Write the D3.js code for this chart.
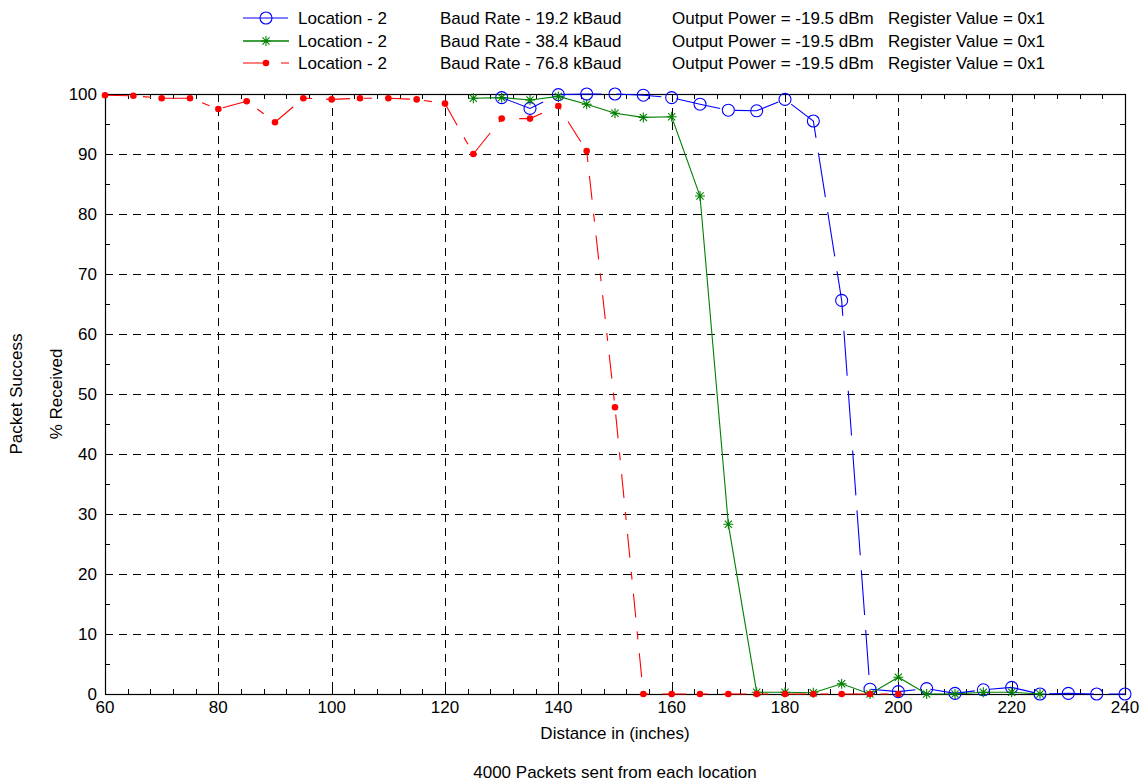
<!DOCTYPE html>
<html>
<head>
<meta charset="utf-8">
<script src="https://cdn.jsdelivr.net/npm/d3@7"></script>
<style>
  html, body { margin: 0; padding: 0; background: #fff; }
  svg { display: block; font-family: "Liberation Sans", Arial, Helvetica, sans-serif; }
</style>
</head>
<body>
<svg id="chart" width="1144" height="783"></svg>
<script>
// Packet success vs. distance, three baud rates at location 2
const distBlue = [130,135,140,145,150,155,160,165,170,175,180,185,190,195,200,205,210,215,220,225,230,235,240];
const pctBlue  = [99.4,97.6,99.9,100,100,99.8,99.4,98.3,97.3,97.2,99.1,95.5,65.6,0.8,0.4,0.9,0.1,0.7,1.1,0,0.1,0,0];

const distGreen = [125,130,135,140,145,150,155,160,165,170,175,180,185,190,195,200,205,210,215,220,225];
const pctGreen  = [99.3,99.4,99.0,99.6,98.3,96.8,96.1,96.2,83.0,28.3,0.3,0.3,0.2,1.7,0,2.8,0,0,0.3,0.3,0];

const distRed = [60,65,70,75,80,85,90,95,100,105,110,115,120,125,130,135,140,145,150,155,160,165,170,175,180,185,190,195,200];
const pctRed  = [99.8,99.7,99.3,99.3,97.5,98.8,95.3,99.3,99.1,99.3,99.3,99.1,98.4,90.0,95.9,95.9,98.0,90.5,47.8,0,0,0,0,0,0,0,0,0,0];

const xTicks = [60,80,100,120,140,160,180,200,220,240];
const yTicks = [0,10,20,30,40,50,60,70,80,90,100];

const legendLocation = ["Location - 2", "Location - 2", "Location - 2"];
const legendBaud = ["Baud Rate - 19.2 kBaud", "Baud Rate - 38.4 kBaud", "Baud Rate - 76.8 kBaud"];
const legendPower = ["Output Power = -19.5 dBm", "Output Power = -19.5 dBm", "Output Power = -19.5 dBm"];
const legendRegister = ["Register Value = 0x1", "Register Value = 0x1", "Register Value = 0x1"];

(function draw() {
  const svg = d3.select("#chart");
  const pl = 105, pr = 1125, pt = 94, pb = 694;
  const x = d3.scaleLinear().domain([60, 240]).range([pl, pr]);
  const y = d3.scaleLinear().domain([0, 100]).range([pb, pt]);
  const FS = 17;

  // dashed grid at major ticks
  const grid = svg.append("g").attr("stroke", "#000").attr("stroke-width", 1).attr("stroke-dasharray", "8,6");
  grid.selectAll(".gx").data(xTicks.slice(1, -1)).join("line")
    .attr("x1", d => Math.round(x(d)) + 0.5).attr("x2", d => Math.round(x(d)) + 0.5)
    .attr("y1", pt).attr("y2", pb);
  grid.selectAll(".gy").data(yTicks.slice(1, -1)).join("line")
    .attr("y1", d => Math.round(y(d)) + 0.5).attr("y2", d => Math.round(y(d)) + 0.5)
    .attr("x1", pl).attr("x2", pr);

  // inward ticks on all four sides
  const minorX = d3.range(60, 241, 4);
  const minorY = d3.range(0, 101, 5);
  const tickG = svg.append("g").attr("stroke", "#000").attr("stroke-width", 1);
  const tickLen = (v, step) => v % step === 0 ? 8 : 5;
  minorX.forEach(v => {
    const px = Math.round(x(v)) + 0.5, L = tickLen(v, 20);
    tickG.append("line").attr("x1", px).attr("x2", px).attr("y1", pb).attr("y2", pb - L);
    tickG.append("line").attr("x1", px).attr("x2", px).attr("y1", pt).attr("y2", pt + L);
  });
  minorY.forEach(v => {
    const py = Math.round(y(v)) + 0.5, L = tickLen(v, 10);
    tickG.append("line").attr("y1", py).attr("y2", py).attr("x1", pl).attr("x2", pl + L);
    tickG.append("line").attr("y1", py).attr("y2", py).attr("x1", pr).attr("x2", pr - L);
  });

  // axes box
  svg.append("rect").attr("x", pl + 0.5).attr("y", pt + 0.5)
    .attr("width", pr - pl).attr("height", pb - pt)
    .attr("fill", "none").attr("stroke", "#000").attr("stroke-width", 1.2);

  // tick labels
  svg.append("g").selectAll("text").data(xTicks).join("text")
    .attr("x", d => x(d)).attr("y", pb + 19)
    .attr("text-anchor", "middle").attr("font-size", FS).text(d => d);
  svg.append("g").selectAll("text").data(yTicks).join("text")
    .attr("x", pl - 8).attr("y", d => y(d) + 6)
    .attr("text-anchor", "end").attr("font-size", FS).text(d => d);

  // axis titles
  svg.append("text").attr("x", (pl + pr) / 2).attr("y", 739)
    .attr("text-anchor", "middle").attr("font-size", FS).text("Distance in (inches)");
  svg.append("text").attr("x", (pl + pr) / 2).attr("y", 778)
    .attr("text-anchor", "middle").attr("font-size", FS).text("4000 Packets sent from each location");
  svg.append("text").attr("transform", `translate(22,${(pt + pb) / 2}) rotate(-90)`)
    .attr("text-anchor", "middle").attr("font-size", FS).text("Packet Success");
  svg.append("text").attr("transform", `translate(62,${(pt + pb) / 2}) rotate(-90)`)
    .attr("text-anchor", "middle").attr("font-size", FS).text("% Received");

  const line = d3.line().x(d => x(d[0])).y(d => y(d[1]));
  const zip = (a, b) => a.map((v, i) => [v, b[i]]);

  const series = [
    { pts: zip(distBlue, pctBlue), color: "#0000ff", dash: "45,15", marker: "circle" },
    { pts: zip(distGreen, pctGreen), color: "#008000", dash: null, marker: "star" },
    { pts: zip(distRed, pctRed), color: "#ff0000", dash: "24,14,8,14", marker: "dot" }
  ];

  function drawMarker(g, kind, cx, cy, color) {
    if (kind === "circle") {
      g.append("circle").attr("cx", cx).attr("cy", cy).attr("r", 6)
        .attr("fill", "none").attr("stroke", color).attr("stroke-width", 1.1);
    } else if (kind === "star") {
      const r = 5, d = 3.6;
      const p = `M${cx - r},${cy}L${cx + r},${cy}M${cx},${cy - r}L${cx},${cy + r}` +
                `M${cx - d},${cy - d}L${cx + d},${cy + d}M${cx - d},${cy + d}L${cx + d},${cy - d}`;
      g.append("path").attr("d", p).attr("stroke", color).attr("stroke-width", 1.1).attr("fill", "none");
    } else {
      g.append("circle").attr("cx", cx).attr("cy", cy).attr("r", 3.3).attr("fill", color);
    }
  }

  series.forEach(s => {
    const g = svg.append("g");
    g.append("path").attr("d", line(s.pts)).attr("fill", "none")
      .attr("stroke", s.color).attr("stroke-width", 1.1)
      .attr("stroke-dasharray", s.dash);
    s.pts.forEach(p => drawMarker(g, s.marker, x(p[0]), y(p[1]), s.color));
  });

  // legend
  const legY = [18, 41, 63];
  series.forEach((s, i) => {
    const g = svg.append("g");
    const ly = legY[i];
    g.append("line").attr("x1", 243).attr("x2", 289).attr("y1", ly).attr("y2", ly)
      .attr("stroke", s.color).attr("stroke-width", s.marker === "star" ? 1.6 : 1.1)
      .attr("stroke-dasharray", s.dash);
    drawMarker(g, s.marker, 266, ly, s.color);
    const cols = [[298, legendLocation[i]], [440, legendBaud[i]], [672, legendPower[i]], [888, legendRegister[i]]];
    cols.forEach(c => g.append("text").attr("x", c[0]).attr("y", ly + 6)
      .attr("font-size", FS).text(c[1]));
  });
})();
</script>
</body>
</html>
